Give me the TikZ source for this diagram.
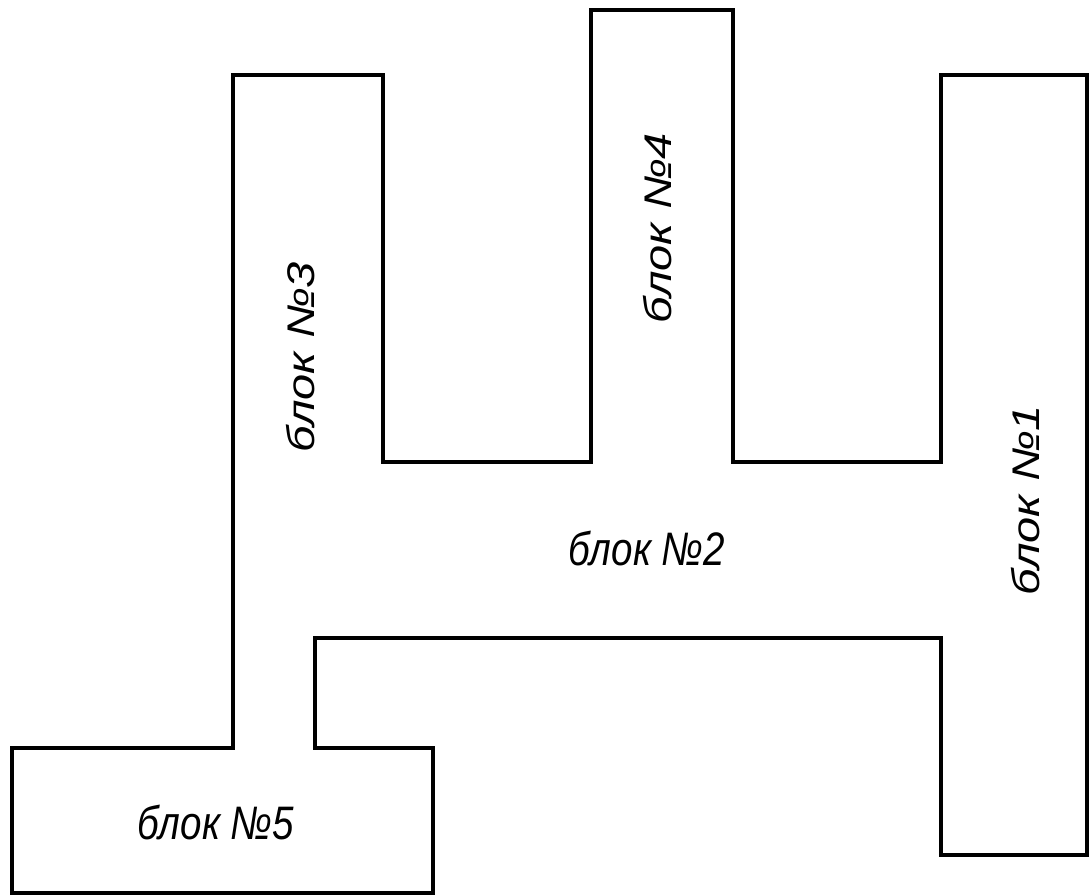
\documentclass[tikz,border=0pt]{standalone}
\usepackage{fontspec}
\setmainfont{Liberation Sans}
\begin{document}
\begin{tikzpicture}[x=1pt,y=-1pt,
  wall/.style={line width=4.3pt,line join=miter},
  lbl/.style={font=\fontsize{47}{47}\selectfont\itshape,inner sep=0pt,xscale=0.82}]
\useasboundingbox (0,0) rectangle (1089,896);
\draw[wall] (233,75) -- (383,75) -- (383,462) -- (591,462) -- (591,10) -- (733,10)
  -- (733,462) -- (941,462) -- (941,75) -- (1087,75) -- (1087,855) -- (941,855)
  -- (941,638) -- (315,638) -- (315,748) -- (433,748) -- (433,893) -- (12,893)
  -- (12,748) -- (233,748) -- cycle;
\node[lbl] (b2) at (647,548) {блок №2};
\node[lbl] (b5) at (216,822) {блок №5};
\node[lbl,rotate=90] (b3) at (301,357) {блок №3};
\node[lbl,rotate=90] (b4) at (658,228) {блок №4};
\node[lbl,rotate=90] (b1) at (1026,500) {блок №1};
\end{tikzpicture}
\end{document}
